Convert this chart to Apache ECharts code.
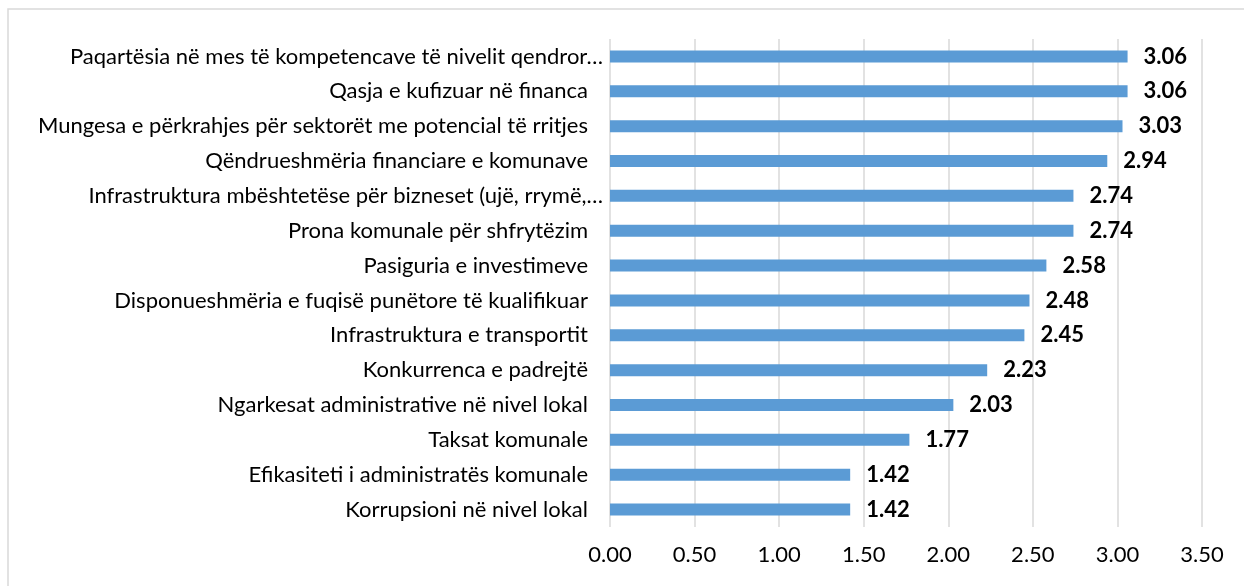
<!DOCTYPE html>
<html>
<head>
<meta charset="utf-8">
<script src="https://cdn.jsdelivr.net/npm/echarts@6/dist/echarts.min.js"></script>
<style>
  html, body { margin: 0; padding: 0; background: #fff; }
</style>
</head>
<body>
<div id="main" style="width: 1244px;height:586px;"></div>

<script type="text/javascript">
// kategoritë (nga poshtë lart, si në boshtin y të ECharts)
var categories = [
	'Korrupsioni në nivel lokal',
	'Efikasiteti i administratës komunale',
	'Taksat komunale',
	'Ngarkesat administrative në nivel lokal',
	'Konkurrenca e padrejtë',
	'Infrastruktura e transportit',
	'Disponueshmëria e fuqisë punëtore të kualifikuar',
	'Pasiguria e investimeve',
	'Prona komunale për shfrytëzim',
	'Infrastruktura mbështetëse për bizneset (ujë, rrymë,…',
	'Qëndrueshmëria financiare e komunave',
	'Mungesa e përkrahjes për sektorët me potencial të rritjes',
	'Qasja e kufizuar në financa',
	'Paqartësia në mes të kompetencave të nivelit qendror…'
];
var values = [1.42, 1.42, 1.77, 2.03, 2.23, 2.45, 2.48, 2.58, 2.74, 2.74, 2.94, 3.03, 3.06, 3.06];

var xMin = 0, xMax = 3.5, xStep = 0.5;

var myChart = echarts.init(document.getElementById('main'));

var font = 'Lato, "Open Sans", sans-serif';
var fs = 22;

var option = {
	animation: false,
	backgroundColor: '#fff',
	textStyle: { fontFamily: font },
	graphic: [{
		type: 'rect',
		shape: { x: 8, y: 9, width: 1260, height: 600 },
		style: { fill: 'none', stroke: '#d9d9d9', lineWidth: 1.5 },
		silent: true
	}],
	grid: {
		left: 610,
		right: 42,
		top: 39,
		bottom: 59,
		containLabel: false
	},
	xAxis: {
		type: 'value',
		min: xMin,
		max: xMax,
		interval: xStep,
		axisLine: { show: false },
		axisTick: { show: false },
		splitLine: { show: true, lineStyle: { color: '#d9d9d9', width: 1.5 } },
		axisLabel: {
			color: '#000',
			fontSize: fs,
			fontFamily: font,
			margin: 17,
			formatter: function (v) { return v.toFixed(2); }
		}
	},
	yAxis: {
		type: 'category',
		data: categories,
		axisLine: { show: false },
		axisTick: { show: false },
		axisLabel: {
			color: '#000',
			fontSize: fs,
			fontFamily: font,
			margin: 7,
			formatter: function (v) {
				// etiketat e plota kanë pak hapësirë në fund, ato të shkurtuara jo
				return v.slice(-1) === '…' ? v : '{p|' + v + '}';
			},
			rich: {
				p: { fontSize: fs, fontFamily: font, color: '#000', padding: [0, 15, 0, 0] }
			}
		}
	},
	series: [{
		type: 'bar',
		data: values,
		barWidth: 12,
		itemStyle: { color: '#5b9bd5' },
		label: {
			show: true,
			position: 'right',
			distance: 16,
			color: '#000',
			fontSize: fs,
			fontWeight: 'bold',
			fontFamily: font,
			formatter: function (p) { return p.value.toFixed(2); }
		}
	}]
};

myChart.setOption(option);
</script>
</body>
</html>
